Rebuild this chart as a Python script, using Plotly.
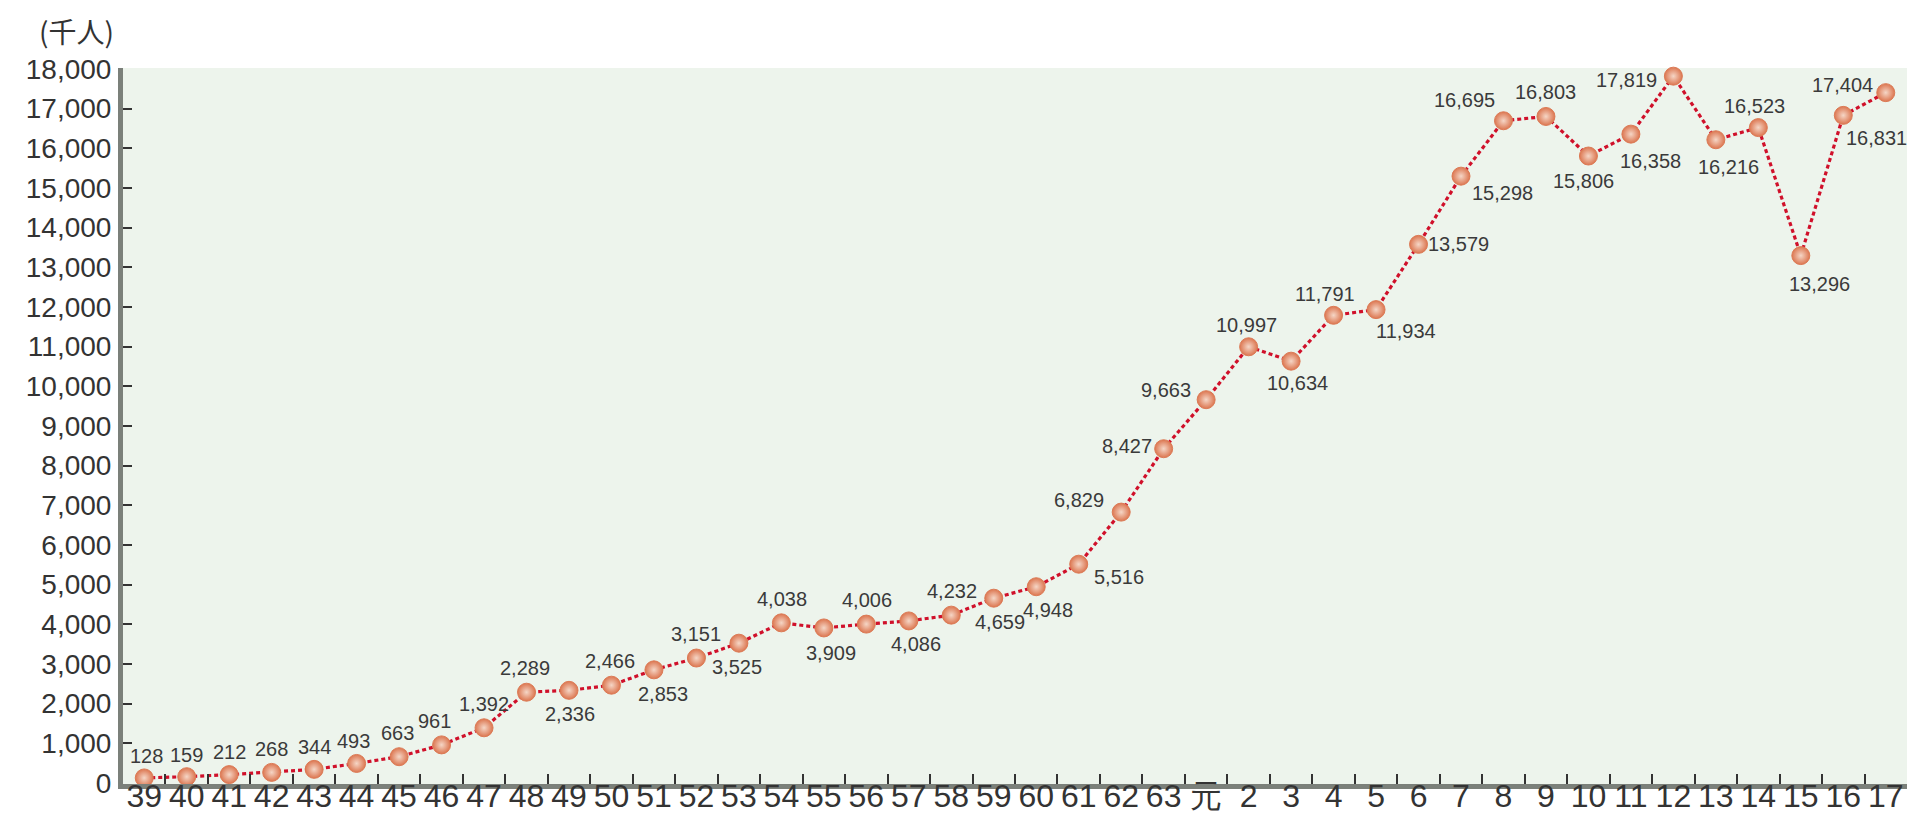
import plotly.graph_objects as go

# ---- data ----
YEARS = ["39", "40", "41", "42", "43", "44", "45", "46", "47", "48", "49", "50",
         "51", "52", "53", "54", "55", "56", "57", "58", "59", "60", "61", "62",
         "63", "元", "2", "3", "4", "5", "6", "7", "8", "9", "10", "11", "12",
         "13", "14", "15", "16", "17"]
TRAVELLERS = [128, 159, 212, 268, 344, 493, 663, 961, 1392, 2289, 2336, 2466,
              2853, 3151, 3525, 4038, 3909, 4006, 4086, 4232, 4659, 4948, 5516, 6829,
              8427, 9663, 10997, 10634, 11791, 11934, 13579, 15298, 16695, 16803, 15806, 16358, 17819,
              16216, 16523, 13296, 16831, 17404]
Y_TICKS = list(range(0, 18001, 1000))
EXTRA_TICK_LABEL = "18"
Y_TITLE = "(千人)"

# ---- label placement (pixel offsets, style only) ----
LABEL_OFFSETS = [(2, 22), (0, 22), (0, 23), (0, 23), (0, 22), (-3, 22), (-2, 24), (-7, 24),
                 (0, 24), (-2, 24), (1, -24), (-1, 24), (9, -24), (0, 24), (-2, -24), (1, 24),
                 (7, -25), (1, 24), (7, -23), (1, 24), (6, -24), (12, -23), (40, -13), (-42, 12),
                 (-37, 3), (-40, 10), (-2, 22), (6, -22), (-9, 21), (30, -21), (40, 0), (41, -17),
                 (-39, 21), (0, 24), (-5, -25), (20, -27), (-47, -4), (13, -27), (-4, 22), (19, -28),
                 (33, -23), (-43, 8)]

TICK_FONT = "Liberation Sans, Arial, sans-serif"
LABEL_FONT = "Liberation Sans, Arial, sans-serif"

W, H = 1917, 813
ML, MR, MT, MB = 115, 18, 60, 37
pw, ph = W - ML - MR, H - MT - MB
step = pw / len(YEARS)

fig = go.Figure()
fig.add_trace(go.Scatter(
    x=YEARS, y=TRAVELLERS, mode="lines+markers",
    line=dict(color="#d0102a", width=3.2, dash="4px,3px"),
    marker=dict(size=18, color="#dc7650",
                gradient=dict(type="radial", color="#f5d6c6"),
                line=dict(color="#dc7a55", width=1)),
    hoverinfo="x+y", showlegend=False, cliponaxis=False,
))

annotations = []
for i, (val, (dx, dy)) in enumerate(zip(TRAVELLERS, LABEL_OFFSETS)):
    annotations.append(dict(
        x=i, y=val, xref="x", yref="y", text=f"{val:,}", showarrow=False,
        xshift=dx, yshift=dy, font=dict(family=LABEL_FONT, size=20, color="#3a3a3a"),
    ))

# next (cut-off) category label beyond the right edge
annotations.append(dict(
    x=(len(YEARS) + 0.5) * step / pw, y=0, xref="paper", yref="paper",
    text=EXTRA_TICK_LABEL, showarrow=False, xanchor="center",
    yanchor="middle", yshift=-21, font=dict(family=TICK_FONT, size=32, color="#333333"),
))
annotations.append(dict(
    x=(68 - ML) / pw, y=(H - MB - 23) / ph, xref="paper", yref="paper",
    xanchor="center", yanchor="middle", text=Y_TITLE, showarrow=False,
    font=dict(family="Noto Sans CJK JP, sans-serif", size=28, color="#333333"),
))

fig.update_layout(
    width=W, height=H,
    margin=dict(l=ML, r=MR, t=MT, b=MB, autoexpand=False),
    paper_bgcolor="white", plot_bgcolor="#edf4ec",
    annotations=annotations,
    xaxis=dict(
        type="category", categoryorder="array", categoryarray=YEARS,
        range=[-0.5, len(YEARS) - 0.5], tickson="boundaries", tickangle=0,
        ticks="inside", ticklen=10, tickwidth=2, tickcolor="#333333",
        showline=True, linecolor="#7b807a", linewidth=5,
        showgrid=False, zeroline=False, ticklabelstandoff=-20,
        tickfont=dict(family=TICK_FONT, size=32, color="#333333"),
        automargin=False,
    ),
    yaxis=dict(
        range=[-25, 18025], tickvals=Y_TICKS, tickformat=",d",
        ticks="inside", ticklen=9, tickwidth=2, tickcolor="#333333",
        showline=True, linecolor="#7b807a", linewidth=5,
        showgrid=False, zeroline=False, ticklabelstandoff=1,
        tickfont=dict(family=TICK_FONT, size=28, color="#333333"),
        automargin=False,
    ),
)

fig.write_html("out.html")
